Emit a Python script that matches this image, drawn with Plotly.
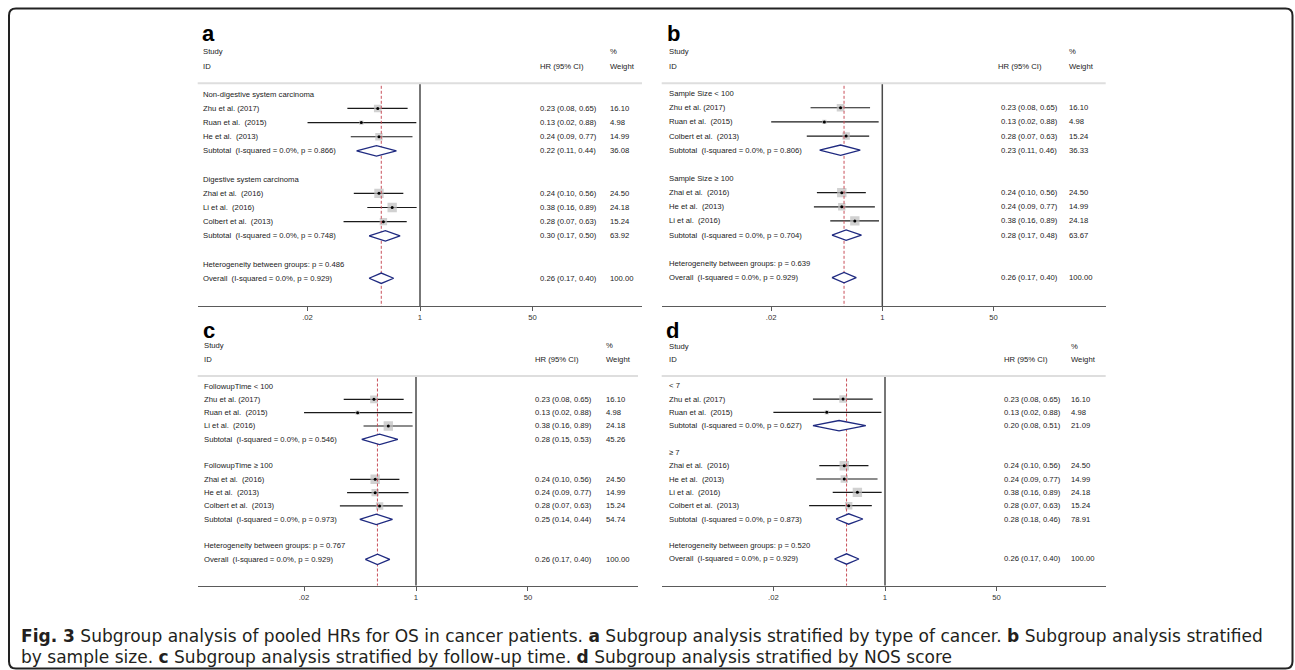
import math
import plotly.graph_objects as go

W, H = 1295, 670

# ---------------- data ----------------
OVERALL_HR, OVERALL_LO, OVERALL_HI, OVERALL_WT = 0.26, 0.17, 0.40, 100.00
OVERALL_I2, OVERALL_P = 0.0, 0.929
TICK_VALS = [0.02, 1, 50]
TICK_TEXT = [".02", "1", "50"]

# panel a: type of cancer
A_GROUPS = ["Non-digestive system carcinoma", "Digestive system carcinoma"]
A_STUDY = [["Zhu et al. (2017)", "Ruan et al.  (2015)", "He et al.  (2013)"],
           ["Zhai et al.  (2016)", "Li et al.  (2016)", "Colbert et al.  (2013)"]]
A_HR = [[0.23, 0.13, 0.24], [0.24, 0.38, 0.28]]
A_LO = [[0.08, 0.02, 0.09], [0.10, 0.16, 0.07]]
A_HI = [[0.65, 0.88, 0.77], [0.56, 0.89, 0.63]]
A_WT = [[16.10, 4.98, 14.99], [24.50, 24.18, 15.24]]
A_SUB_I2 = [0.0, 0.0]
A_SUB_P = [0.866, 0.748]
A_SUB_HR = [0.22, 0.30]
A_SUB_LO = [0.11, 0.17]
A_SUB_HI = [0.44, 0.50]
A_SUB_WT = [36.08, 63.92]
A_HET_P = 0.486

# panel b: sample size
B_GROUPS = ["Sample Size < 100", "Sample Size \u2265 100"]
B_STUDY = [["Zhu et al. (2017)", "Ruan et al.  (2015)", "Colbert et al.  (2013)"],
           ["Zhai et al.  (2016)", "He et al.  (2013)", "Li et al.  (2016)"]]
B_HR = [[0.23, 0.13, 0.28], [0.24, 0.24, 0.38]]
B_LO = [[0.08, 0.02, 0.07], [0.10, 0.09, 0.16]]
B_HI = [[0.65, 0.88, 0.63], [0.56, 0.77, 0.89]]
B_WT = [[16.10, 4.98, 15.24], [24.50, 14.99, 24.18]]
B_SUB_I2 = [0.0, 0.0]
B_SUB_P = [0.806, 0.704]
B_SUB_HR = [0.23, 0.28]
B_SUB_LO = [0.11, 0.17]
B_SUB_HI = [0.46, 0.48]
B_SUB_WT = [36.33, 63.67]
B_HET_P = 0.639

# panel c: follow-up time
C_GROUPS = ["FollowupTime < 100", "FollowupTime \u2265 100"]
C_STUDY = [["Zhu et al. (2017)", "Ruan et al.  (2015)", "Li et al.  (2016)"],
           ["Zhai et al.  (2016)", "He et al.  (2013)", "Colbert et al.  (2013)"]]
C_HR = [[0.23, 0.13, 0.38], [0.24, 0.24, 0.28]]
C_LO = [[0.08, 0.02, 0.16], [0.10, 0.09, 0.07]]
C_HI = [[0.65, 0.88, 0.89], [0.56, 0.77, 0.63]]
C_WT = [[16.10, 4.98, 24.18], [24.50, 14.99, 15.24]]
C_SUB_I2 = [0.0, 0.0]
C_SUB_P = [0.546, 0.973]
C_SUB_HR = [0.28, 0.25]
C_SUB_LO = [0.15, 0.14]
C_SUB_HI = [0.53, 0.44]
C_SUB_WT = [45.26, 54.74]
C_HET_P = 0.767

# panel d: NOS score
D_GROUPS = ["< 7", "\u2265 7"]
D_STUDY = [["Zhu et al. (2017)", "Ruan et al.  (2015)"],
           ["Zhai et al.  (2016)", "He et al.  (2013)", "Li et al.  (2016)", "Colbert et al.  (2013)"]]
D_HR = [[0.23, 0.13], [0.24, 0.24, 0.38, 0.28]]
D_LO = [[0.08, 0.02], [0.10, 0.09, 0.16, 0.07]]
D_HI = [[0.65, 0.88], [0.56, 0.77, 0.89, 0.63]]
D_WT = [[16.10, 4.98], [24.50, 14.99, 24.18, 15.24]]
D_SUB_I2 = [0.0, 0.0]
D_SUB_P = [0.627, 0.873]
D_SUB_HR = [0.20, 0.28]
D_SUB_LO = [0.08, 0.18]
D_SUB_HI = [0.51, 0.46]
D_SUB_WT = [21.09, 78.91]
D_HET_P = 0.520

CAPTION_1 = ("<b>Fig. 3</b> Subgroup analysis of pooled HRs for OS in cancer patients. "
             "<b>a</b> Subgroup analysis stratified by type of cancer. "
             "<b>b</b> Subgroup analysis stratified")
CAPTION_2 = ("by sample size. <b>c</b> Subgroup analysis stratified by follow-up time. "
             "<b>d</b> Subgroup analysis stratified by NOS score")

PANELS = [
    ("a", A_GROUPS, A_STUDY, A_HR, A_LO, A_HI, A_WT, A_SUB_I2, A_SUB_P, A_SUB_HR, A_SUB_LO, A_SUB_HI, A_SUB_WT, A_HET_P),
    ("b", B_GROUPS, B_STUDY, B_HR, B_LO, B_HI, B_WT, B_SUB_I2, B_SUB_P, B_SUB_HR, B_SUB_LO, B_SUB_HI, B_SUB_WT, B_HET_P),
    ("c", C_GROUPS, C_STUDY, C_HR, C_LO, C_HI, C_WT, C_SUB_I2, C_SUB_P, C_SUB_HR, C_SUB_LO, C_SUB_HI, C_SUB_WT, C_HET_P),
    ("d", D_GROUPS, D_STUDY, D_HR, D_LO, D_HI, D_WT, D_SUB_I2, D_SUB_P, D_SUB_HR, D_SUB_LO, D_SUB_HI, D_SUB_WT, D_HET_P),
]

# ---------------- geometry (pixels) ----------------
GEOM = {
    "a": dict(lx=200, ly=34, sx=201, hhx=538, hx=538, wx=608, ys=51.7, yi=66, sep=83.3,
              row0=94.3, dy=14.15, axis=306, left=197.7, right=642, x1=420, ppd=66.2),
    "b": dict(lx=665, ly=34, sx=666.7, hhx=996, hx=999, wx=1067, ys=51.7, yi=66, sep=83.3,
              row0=93.6, dy=14.15, axis=306, left=661.7, right=1105.7, x1=882.3, ppd=65.4),
    "c": dict(lx=201, ly=331, sx=201.7, hhx=532.7, hx=532.7, wx=603.5, ys=345.7, yi=359.3, sep=376,
              row0=386, dy=13.33, axis=585.7, left=197.7, right=638, x1=416, ppd=65.9),
    "d": dict(lx=664, ly=331, sx=666.7, hhx=1001.7, hx=1002, wx=1069, ys=346, yi=359.3, sep=376,
              row0=385.7, dy=13.33, axis=585.7, left=661.7, right=1105.7, x1=885, ppd=65.7),
}

FONT = "Liberation Sans, Arial, Helvetica, sans-serif"
FS = 7.7
TXT = "#222222"
NAVY = "#1f2a80"
RED = "#c8505a"
BOX_K = 1.9
DIA_HALF_PX = 5.2


def sp(s):
    return s.replace("  ", " \u00a0")


def fmt_ci(h, l, u):
    return f"{h:.2f} ({l:.2f}, {u:.2f})"


fig = go.Figure()
annotations = []
shapes = []
layout_axes = {}

for k, P in enumerate(PANELS, start=1):
    (key, groups, study, hr, lo, hi, wt, si2, sp_, shr, slo, shi, swt, hetp) = P
    G = GEOM[key]
    xr = "x" if k == 1 else f"x{k}"
    yr = "y" if k == 1 else f"y{k}"
    xname = "xaxis" if k == 1 else f"xaxis{k}"
    yname = "yaxis" if k == 1 else f"yaxis{k}"
    rb = (G["axis"] - G["row0"]) / G["dy"]
    rt = (G["sep"] - G["row0"]) / G["dy"]

    layout_axes[xname] = dict(
        type="log",
        range=[-(G["x1"] - G["left"]) / G["ppd"], (G["right"] - G["x1"]) / G["ppd"]],
        domain=[G["left"] / W, G["right"] / W], anchor=yr,
        showline=True, linecolor="#5a5a5a", linewidth=1.2,
        ticks="outside", ticklen=4, tickwidth=1.2, tickcolor="#5a5a5a",
        tickvals=TICK_VALS, ticktext=TICK_TEXT,
        tickfont=dict(family=FONT, size=FS, color="#333333"),
        showgrid=False, zeroline=False, fixedrange=True)
    layout_axes[yname] = dict(
        domain=[1 - G["axis"] / H, 1 - G["sep"] / H], range=[rb, rt], anchor=xr,
        visible=False, showgrid=False, zeroline=False, fixedrange=True)

    # rows
    study_rows, sub_rows, text_rows = [], [], []
    i = 0
    for gi, gname in enumerate(groups):
        text_rows.append((i, gname, None, None))
        i += 1
        for j, name in enumerate(study[gi]):
            study_rows.append((i, hr[gi][j], lo[gi][j], hi[gi][j], wt[gi][j]))
            text_rows.append((i, name, fmt_ci(hr[gi][j], lo[gi][j], hi[gi][j]), f"{wt[gi][j]:.2f}"))
            i += 1
        sub_rows.append((i, shr[gi], slo[gi], shi[gi]))
        text_rows.append((i, f"Subtotal  (I-squared = {si2[gi]:.1f}%, p = {sp_[gi]:.3f})",
                          fmt_ci(shr[gi], slo[gi], shi[gi]), f"{swt[gi]:.2f}"))
        i += 2
    text_rows.append((i, f"Heterogeneity between groups: p = {hetp:.3f}", None, None))
    i += 1
    sub_rows.append((i, OVERALL_HR, OVERALL_LO, OVERALL_HI))
    text_rows.append((i, f"Overall  (I-squared = {OVERALL_I2:.1f}%, p = {OVERALL_P:.3f})",
                      fmt_ci(OVERALL_HR, OVERALL_LO, OVERALL_HI), f"{OVERALL_WT:.2f}"))

    # null line at 1
    fig.add_trace(go.Scatter(x=[1, 1], y=[rt, rb], mode="lines", xaxis=xr, yaxis=yr,
                             line=dict(color="#4a4a4a", width=1.5), hoverinfo="skip"))
    # CI lines
    cx, cy = [], []
    for (r, h_, l_, u_, w_) in study_rows:
        cx += [l_, u_, None]
        cy += [r, r, None]
    fig.add_trace(go.Scatter(x=cx, y=cy, mode="lines", xaxis=xr, yaxis=yr,
                             line=dict(color="#1a1a1a", width=1.2), hoverinfo="skip"))
    # weight boxes
    fig.add_trace(go.Scatter(x=[s[1] for s in study_rows], y=[s[0] for s in study_rows],
                             mode="markers", xaxis=xr, yaxis=yr,
                             marker=dict(symbol="square", color="#bdbdbd",
                                         size=[BOX_K * math.sqrt(s[4]) for s in study_rows],
                                         line=dict(width=0)), hoverinfo="skip"))
    # overall dashed line
    fig.add_trace(go.Scatter(x=[OVERALL_HR, OVERALL_HR], y=[rt + 2.5 / G["dy"], rb], mode="lines",
                             xaxis=xr, yaxis=yr,
                             line=dict(color=RED, width=1, dash="3px,2px"), hoverinfo="skip"))
    # point estimates
    fig.add_trace(go.Scatter(x=[s[1] for s in study_rows], y=[s[0] for s in study_rows],
                             mode="markers", xaxis=xr, yaxis=yr,
                             marker=dict(symbol="circle", color="#000000", size=3),
                             hoverinfo="skip"))
    # diamonds
    hh = DIA_HALF_PX / G["dy"]
    dx, dyv = [], []
    for (r, h_, l_, u_) in sub_rows:
        dx += [l_, h_, u_, h_, l_, None]
        dyv += [r, r - hh, r, r + hh, r, None]
    fig.add_trace(go.Scatter(x=dx, y=dyv, mode="lines", fill="toself", fillcolor="white",
                             xaxis=xr, yaxis=yr, line=dict(color=NAVY, width=1.3),
                             hoverinfo="skip"))

    # separator
    shapes.append(dict(type="line", xref="paper", yref="paper",
                       x0=G["left"] / W, x1=G["right"] / W,
                       y0=1 - G["sep"] / H, y1=1 - G["sep"] / H,
                       line=dict(color="#dedede", width=2)))

    def ann(text, xpx, ypx=None, yrow=None, size=FS):
        d = dict(text=sp(text), x=xpx / W, xref="paper", xanchor="left", yanchor="middle",
                 showarrow=False, font=dict(family=FONT, size=size, color=TXT))
        if yrow is None:
            d.update(y=1 - ypx / H, yref="paper")
        else:
            d.update(y=yrow, yref=yr)
        annotations.append(d)

    # panel letter and headers
    annotations.append(dict(text=f"<b>{key}</b>", x=G["lx"] / W, y=1 - G["ly"] / H,
                            xref="paper", yref="paper", xanchor="left", yanchor="middle",
                            showarrow=False, font=dict(family=FONT, size=22, color="#000000")))
    ann("Study", G["sx"], ypx=G["ys"])
    ann("ID", G["sx"], ypx=G["yi"])
    ann("HR (95% CI)", G["hhx"], ypx=G["yi"])
    ann("%", G["wx"], ypx=G["ys"])
    ann("Weight", G["wx"], ypx=G["yi"])
    for (r, lab, ci, w_) in text_rows:
        ann(lab, G["sx"], yrow=r)
        if ci is not None:
            ann(ci, G["hx"], yrow=r)
            ann(w_, G["wx"], yrow=r)

# caption
CAP_FONT = "DejaVu Sans, Verdana, sans-serif"
for txt, ypx in ((CAPTION_1, 636), (CAPTION_2, 657)):
    annotations.append(dict(text=txt, x=20 / W, y=1 - ypx / H, xref="paper", yref="paper",
                            xanchor="left", yanchor="middle", showarrow=False, borderpad=0,
                            font=dict(family=CAP_FONT, size=17.05, color="#231f20")))

# rounded border
Lb, Rb, Tb, Bb, rr = 9, 1292.5, 8.5, 668.5, 7


def PP(xp, yp):
    return f"{xp / W:.6f},{1 - yp / H:.6f}"


path = (f"M {PP(Lb + rr, Tb)} L {PP(Rb - rr, Tb)} Q {PP(Rb, Tb)} {PP(Rb, Tb + rr)} "
        f"L {PP(Rb, Bb - rr)} Q {PP(Rb, Bb)} {PP(Rb - rr, Bb)} "
        f"L {PP(Lb + rr, Bb)} Q {PP(Lb, Bb)} {PP(Lb, Bb - rr)} "
        f"L {PP(Lb, Tb + rr)} Q {PP(Lb, Tb)} {PP(Lb + rr, Tb)} Z")
shapes.append(dict(type="path", xref="paper", yref="paper", path=path,
                   line=dict(color="#222222", width=2)))

fig.update_layout(width=W, height=H, margin=dict(l=0, r=0, t=0, b=0),
                  paper_bgcolor="white", plot_bgcolor="white", showlegend=False,
                  annotations=annotations, shapes=shapes, **layout_axes)

fig.write_html("out.html", config={"displayModeBar": False},
               post_script="document.body.style.margin='0';document.body.style.padding='0';"
                           "document.body.style.overflow='hidden';")
